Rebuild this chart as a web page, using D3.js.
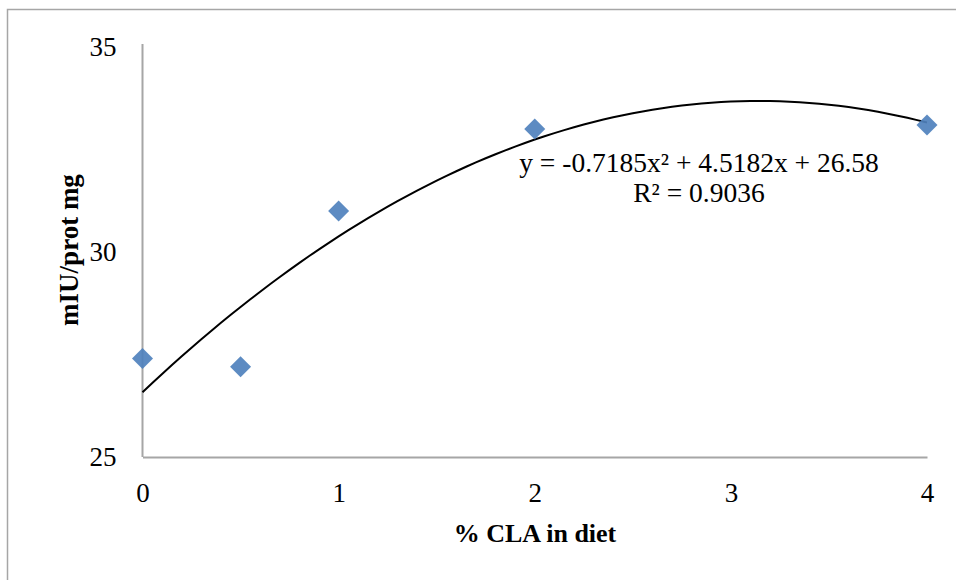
<!DOCTYPE html>
<html>
<head>
<meta charset="utf-8">
<script src="https://cdn.jsdelivr.net/npm/d3@7"></script>
<style>
  html, body { margin: 0; padding: 0; background: #fff; }
  svg { display: block; }
</style>
</head>
<body>
<svg id="chart" width="956" height="580"></svg>
<script>
// ---- data ----
const cla = [0, 0.5, 1, 2, 4];
const activity = [27.4, 27.2, 31.0, 33.0, 33.1];
const xTicks = [0, 1, 2, 3, 4];
const yTicks = [25, 30, 35];
const trendCoef = [26.58, 4.5182, -0.7185]; // c0 + c1 x + c2 x^2
const equationText = "y = -0.7185x² + 4.5182x + 26.58";
const rSquaredText = "R² = 0.9036";
const xTitle = "% CLA in diet";
const yTitle = "mIU/prot mg";

const FONT = "'Liberation Serif', 'DejaVu Serif', serif";
const svg = d3.select("#chart");

// outer frame (extends past the canvas to the right and bottom)
svg.append("rect")
  .attr("x", 7.5).attr("y", 9.5)
  .attr("width", 1000).attr("height", 1000)
  .attr("fill", "none").attr("stroke", "#a6a6a6").attr("stroke-width", 1.5);

const x = d3.scaleLinear().domain([0, 4]).range([142.5, 927]);
const y = d3.scaleLinear().domain([25, 35]).range([457, 47]);

// axes
const xAxis = svg.append("g").attr("transform", `translate(0,${y(25)})`)
  .call(d3.axisBottom(x).tickValues(xTicks).tickSize(0).tickPadding(26).tickFormat(d3.format("d")));
const yAxis = svg.append("g").attr("transform", `translate(${x(0)},0)`)
  .call(d3.axisLeft(y).tickValues(yTicks).tickSize(0).tickPadding(26).tickFormat(d3.format("d")));
[xAxis, yAxis].forEach(g => {
  g.select(".domain").attr("stroke", "#a6a6a6").attr("stroke-width", 2);
  g.selectAll("text").attr("font-family", FONT).attr("font-size", 27).attr("fill", "#000");
});
yAxis.select(".domain").attr("d", `M0,${y(35) - 3}V${y(25)}`);

// trendline
const poly = v => trendCoef[0] + trendCoef[1] * v + trendCoef[2] * v * v;
const xs = d3.range(0, 4.0001, 0.05);
svg.append("path")
  .datum(xs)
  .attr("fill", "none").attr("stroke", "#000").attr("stroke-width", 2)
  .attr("d", d3.line().x(d => x(d)).y(d => y(poly(d))).curve(d3.curveLinear));

// points (diamonds)
const diamond = d3.symbol().type(d3.symbolSquare).size(220);
svg.append("g").selectAll("path")
  .data(cla.map((c, i) => [c, activity[i]]))
  .join("path")
  .attr("d", diamond)
  .attr("fill", "#4f81bd")
  .attr("opacity", 0.92)
  .attr("transform", d => `translate(${x(d[0])},${y(d[1])}) rotate(45)`);

// equation labels
svg.append("text").attr("x", 699).attr("y", 172)
  .attr("text-anchor", "middle").attr("font-family", FONT).attr("font-size", 27.5)
  .text(equationText);
svg.append("text").attr("x", 699).attr("y", 202)
  .attr("text-anchor", "middle").attr("font-family", FONT).attr("font-size", 27.5)
  .text(rSquaredText);

// axis titles
svg.append("text").attr("x", 535).attr("y", 542)
  .attr("text-anchor", "middle").attr("font-family", FONT).attr("font-size", 26).attr("font-weight", "bold")
  .text(xTitle);
svg.append("text").attr("transform", "translate(78,250) rotate(-90)")
  .attr("text-anchor", "middle").attr("font-family", FONT).attr("font-size", 27).attr("font-weight", "bold")
  .text(yTitle);
</script>
</body>
</html>
